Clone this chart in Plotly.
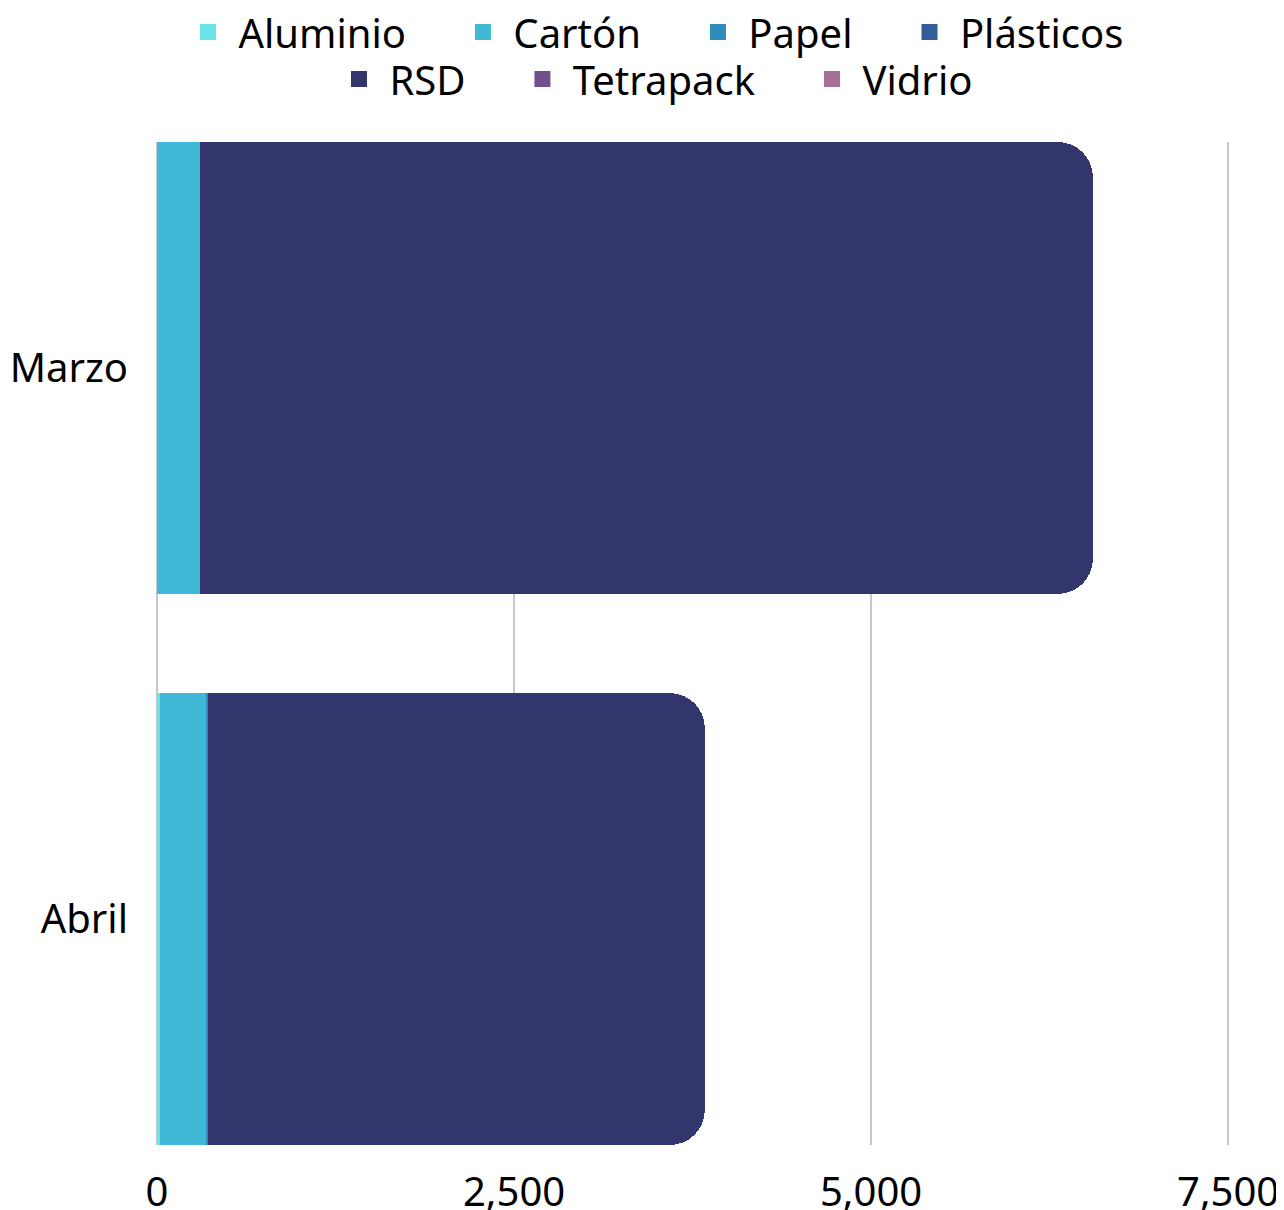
import plotly.graph_objects as go

months = ['Marzo', 'Abril']
materials = ['Aluminio', 'Cartón', 'Papel', 'Plásticos', 'RSD', 'Tetrapack', 'Vidrio']
aluminio = [0, 20]
carton = [300, 330]
papel = [0, 10]
plasticos = [0, 0]
rsd = [6253, 3476]
tetrapack = [0, 0]
vidrio = [0, 0]
colors = ['#6ae3e6', '#42b8d8', '#2e8bbd', '#2f5f98', '#32366c', '#734f8c', '#a86e9a']

values = [aluminio, carton, papel, plasticos, rsd, tetrapack, vidrio]
nbsp = '\u00a0'

fig = go.Figure()
for i, (name, vals, color) in enumerate(zip(materials, values, colors)):
    fig.add_trace(
        go.Bar(y=months,
               x=vals,
               name=name,
               orientation='h',
               showlegend=False,
               marker=dict(color=color, line=dict(width=0)),
               hovertemplate=f'{name}: %{{x}}<extra></extra>')
    )

# legend entries (square markers, two centred rows)
for i, (name, color) in enumerate(zip(materials, colors)):
    label = nbsp + name
    if name not in ('Plásticos', 'Vidrio'):
        label += nbsp * 5
    fig.add_trace(
        go.Scatter(x=[None], y=[None],
                   mode='markers',
                   name=label,
                   legend='legend' if i < 4 else 'legend2',
                   marker=dict(symbol='square', size=20, color=color),
                   hoverinfo='skip')
    )

legend_style = dict(
    orientation='h',
    x=0.513,
    xref='container',
    xanchor='center',
    yref='container',
    yanchor='middle',
    font=dict(size=40, color='black'),
    traceorder='normal',
    itemsizing='trace',
    bgcolor='rgba(0,0,0,0)',
)

fig.update_layout(
    barmode='stack',
    bargap=0.18,
    barcornerradius=35,
    width=1268,
    height=1202,
    plot_bgcolor='white',
    paper_bgcolor='white',
    font=dict(family='Noto Sans', size=40, color='black'),
    margin=dict(t=134, b=65, l=149, r=45, autoexpand=False),
    legend=dict(legend_style, y=0.980),
    legend2=dict(legend_style, y=0.941),
    xaxis=dict(
        range=[0, 7520],  # a bit past 7,500 so the last gridline is drawn
        tickvals=[0, 2500, 5000, 7500],
        ticktext=['0', '2,500', '5,000', '7,500'],
        showgrid=True,
        gridcolor='#c8c8c8',
        gridwidth=2,
        zeroline=True,
        zerolinecolor='#c8c8c8',
        zerolinewidth=2,
        ticks='',
        ticklabelstandoff=20,
        ticklabeloverflow='allow',
        automargin=False,
    ),
    yaxis=dict(
        categoryorder='array',
        categoryarray=['Abril', 'Marzo'],
        range=[-0.41, 1.41],
        showgrid=False,
        ticks='',
        ticklabelstandoff=28,
        automargin=False,
    ),
)

fig.write_html("out.html")
